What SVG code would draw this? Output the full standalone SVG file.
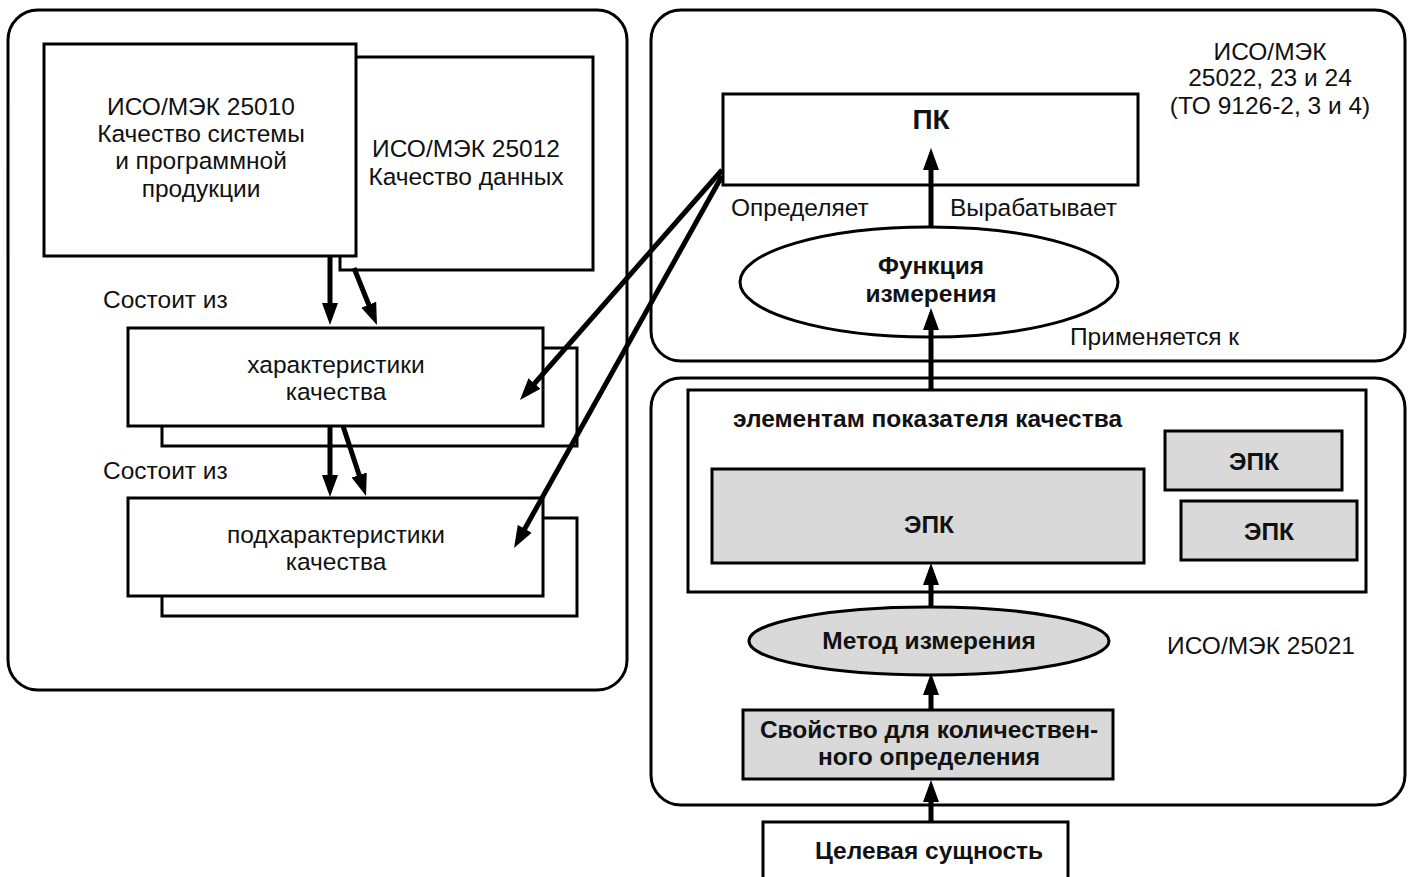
<svg xmlns="http://www.w3.org/2000/svg" width="1412" height="877" viewBox="0 0 1412 877">
<style>
.panel{fill:#fff;stroke:#000;stroke-width:3}
.box{fill:#fff;stroke:#000;stroke-width:3}
.gbox{fill:#d9d9d9;stroke:#000;stroke-width:3}
.t{font-family:"Liberation Sans",Arial,sans-serif;font-size:24.5px;fill:#111;text-anchor:middle}
.b{font-family:"Liberation Sans",Arial,sans-serif;font-size:24.5px;font-weight:bold;fill:#111;text-anchor:middle}
.l{text-anchor:start}
.c{stroke:#000;stroke-width:5;fill:none;marker-end:url(#ah)}
</style>
<defs>
<marker id="ah" markerUnits="userSpaceOnUse" viewBox="0 -9 24 18" refX="2" refY="0" markerWidth="24" markerHeight="18" orient="auto">
<path d="M0,-8 L22,0 L0,8 z" fill="#000"/>
</marker>
</defs>
<rect width="1412" height="877" fill="#fff"/>
<g id="panel-left"><rect class="panel" x="8" y="10" width="619" height="680" rx="30"/></g>
<g id="panel-right-top"><rect class="panel" x="651" y="10" width="754" height="351" rx="30"/></g>
<g id="panel-right-bottom"><rect class="panel" x="651" y="378" width="754" height="427" rx="30"/></g>

<g id="n-25012"><rect class="box" x="340" y="57" width="253" height="213"/>
<text class="t" x="466" y="157">ИСО/МЭК 25012</text><text class="t" x="466" y="185">Качество данных</text></g>
<g id="n-25010"><rect class="box" x="44" y="44" width="312" height="212"/>
<text class="t" x="201" y="115">ИСО/МЭК 25010</text><text class="t" x="201" y="142">Качество системы</text><text class="t" x="201" y="169">и программной</text><text class="t" x="201" y="197">продукции</text></g>

<g id="lbl-consists1"><text class="t l" x="103" y="308">Состоит из</text></g>
<g id="lbl-consists2"><text class="t l" x="103" y="479">Состоит из</text></g>

<g id="n-char"><rect class="box" x="162" y="348" width="415" height="98"/><rect class="box" x="128" y="328" width="415" height="98"/>
<text class="t" x="336" y="373">характеристики</text><text class="t" x="336" y="400">качества</text></g>
<g id="n-subchar"><rect class="box" x="162" y="518" width="415" height="98"/><rect class="box" x="128" y="498" width="415" height="98"/>
<text class="t" x="336" y="543">подхарактеристики</text><text class="t" x="336" y="570">качества</text></g>

<g id="n-pk"><rect class="box" x="723" y="94" width="415" height="91"/><text class="b" x="931" y="129" style="font-size:28px">ПК</text></g>
<g id="lbl-std1"><text class="t" x="1270" y="60">ИСО/МЭК</text><text class="t" x="1270" y="86">25022, 23 и 24</text><text class="t" x="1270" y="114">(ТО 9126-2, 3 и 4)</text></g>
<g id="lbl-defines"><text class="t l" x="731" y="216">Определяет</text></g>
<g id="lbl-produces"><text class="t l" x="950" y="216">Вырабатывает</text></g>
<g id="n-func"><ellipse class="box" cx="929" cy="282" rx="189" ry="55"/>
<text class="b" x="931" y="274">Функция</text><text class="b" x="931" y="302">измерения</text></g>
<g id="lbl-applies"><text class="t l" x="1070" y="345">Применяется к</text></g>

<g id="n-elements"><rect class="box" x="688" y="390" width="678" height="202"/>
<text class="b l" x="733" y="427">элементам показателя качества</text></g>
<g id="n-epk1"><rect class="gbox" x="712" y="469" width="432" height="94"/><text class="b" x="929" y="533">ЭПК</text></g>
<g id="n-epk2"><rect class="gbox" x="1165" y="431" width="177" height="59"/><text class="b" x="1254" y="470">ЭПК</text></g>
<g id="n-epk3"><rect class="gbox" x="1181" y="501" width="176" height="59"/><text class="b" x="1269" y="540">ЭПК</text></g>
<g id="n-method"><ellipse class="gbox" cx="929" cy="641" rx="180" ry="34"/><text class="b" x="929" y="649">Метод измерения</text></g>
<g id="lbl-std2"><text class="t" x="1261" y="654">ИСО/МЭК 25021</text></g>
<g id="n-prop"><rect class="gbox" x="743" y="710" width="370" height="69"/>
<text class="b" x="929" y="738">Свойство для количествен-</text><text class="b" x="929" y="765">ного определения</text></g>
<g id="n-target"><rect class="box" x="763" y="822" width="305" height="60"/><text class="b" x="929" y="859">Целевая сущность</text></g>

<g id="connectors">
<line class="c" x1="330" y1="256" x2="330" y2="305"/>
<line class="c" x1="354" y1="268" x2="369.5" y2="306.5"/>
<line class="c" x1="330" y1="426" x2="330" y2="477"/>
<line class="c" x1="343" y1="426" x2="359.8" y2="477"/>
<line class="c" x1="722" y1="170" x2="533.2" y2="385"/>
<line class="c" x1="722" y1="176" x2="523.8" y2="530.5"/>
<line class="c" x1="931" y1="227" x2="931" y2="168"/>
<line class="c" x1="931" y1="390" x2="931" y2="328"/>
<line class="c" x1="931" y1="607" x2="931" y2="583"/>
<line class="c" x1="931" y1="710" x2="931" y2="693"/>
<line class="c" x1="931" y1="822" x2="931" y2="800"/>
</g>
</svg>
